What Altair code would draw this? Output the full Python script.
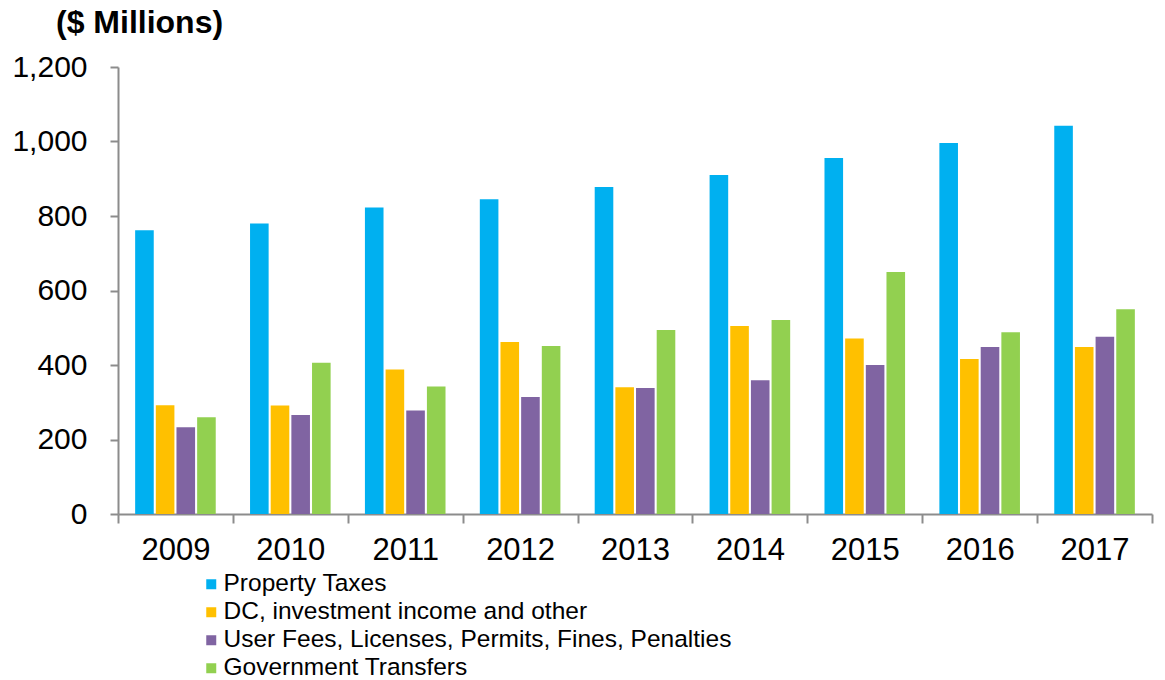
import altair as alt
import pandas as pd

years = ["2009", "2010", "2011", "2012", "2013", "2014", "2015", "2016", "2017"]
series = [
    "Property Taxes",
    "DC, investment income and other",
    "User Fees, Licenses, Permits, Fines, Penalties",
    "Government Transfers",
]
property_taxes = [762, 780, 823, 845, 878, 910, 956, 996, 1042]
dc_other = [292, 291, 388, 462, 340, 505, 471, 416, 448]
user_fees = [233, 266, 278, 314, 338, 359, 400, 448, 476]
gov_transfers = [260, 406, 342, 451, 494, 521, 650, 488, 550]
colors = ["#00B0F0", "#FFC000", "#8064A2", "#92D050"]

rows = []
for s, vals in zip(series, [property_taxes, dc_other, user_fees, gov_transfers]):
    for y, v in zip(years, vals):
        rows.append({"Year": y, "Series": s, "Value": v})
df = pd.DataFrame(rows)

FONT = "Liberation Sans"

chart = (
    alt.Chart(df)
    .mark_bar()
    .encode(
        x=alt.X(
            "Year:N",
            sort=years,
            title=None,
            scale=alt.Scale(paddingInner=0, paddingOuter=0),
            axis=alt.Axis(
                labelAngle=0,
                labelFontSize=31,
                labelFont=FONT,
                labelColor="black",
                labelPadding=12,
                tickSize=9,
                tickBand="extent",
                domainColor="#8c8c8c",
                tickColor="#8c8c8c",
                domainWidth=2,
                tickWidth=2,
            ),
        ),
        xOffset=alt.XOffset(
            "Series:N",
            sort=series,
            scale=alt.Scale(paddingInner=0.1, paddingOuter=0.83),
        ),
        y=alt.Y(
            "Value:Q",
            title=None,
            scale=alt.Scale(domain=[0, 1200]),
            axis=alt.Axis(
                values=[0, 200, 400, 600, 800, 1000, 1200],
                format=",d",
                grid=False,
                labelFontSize=30,
                labelFont=FONT,
                labelColor="black",
                labelPadding=23,
                tickSize=8,
                domainColor="#8c8c8c",
                tickColor="#8c8c8c",
                domainWidth=2,
                tickWidth=2,
            ),
        ),
        color=alt.Color(
            "Series:N",
            sort=series,
            scale=alt.Scale(domain=series, range=colors),
            legend=alt.Legend(
                title=None,
                orient="none",
                legendX=81,
                legendY=505,
                symbolType="square",
                symbolSize=100,
                symbolStrokeWidth=0,
                labelFontSize=24.5,
                labelFont=FONT,
                labelColor="black",
                labelLimit=0,
                rowPadding=3,
                labelOffset=0,
            ),
        ),
    )
    .properties(
        width=1034,
        height=447,
        title=alt.Title(
            "($ Millions)",
            anchor="start",
            frame="group",
            fontSize=32,
            font=FONT,
            fontWeight="bold",
            color="black",
            dx=-62,
            offset=12,
        ),
        autosize=alt.AutoSizeParams(type="none"),
        padding={"left": 110, "top": 59, "right": 5, "bottom": 200},
    )
    .configure_view(stroke=None)
)

chart.save("out.html", embed_options={"renderer": "svg", "actions": False})
